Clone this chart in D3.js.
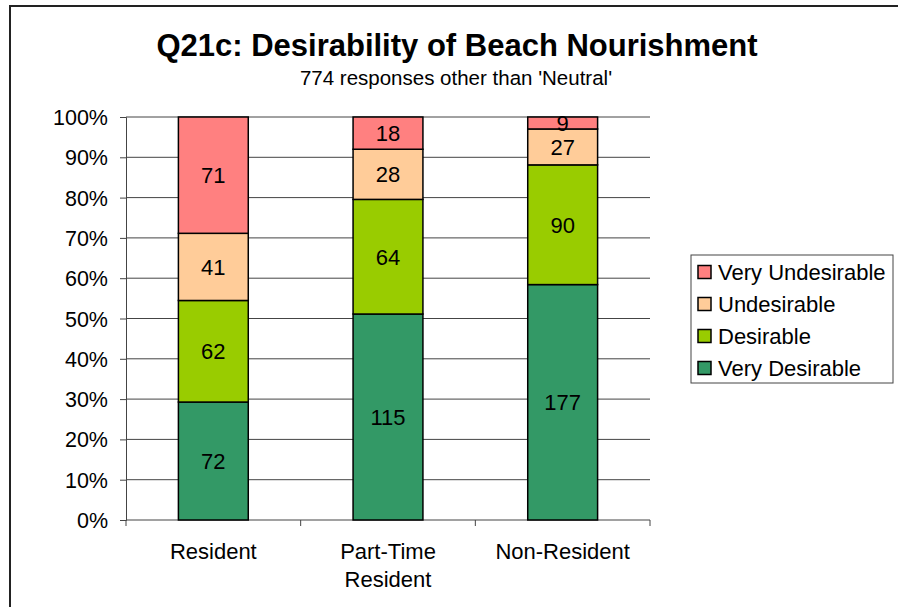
<html>
<head>
<meta charset="utf-8">
<script src="https://d3js.org/d3.v7.min.js"></script>
<style>
  body { margin: 0; background: #fff; }
  text { font-family: "Liberation Sans", Arial, sans-serif; fill: #000; }
</style>
</head>
<body>
<div id="chart"></div>
<script>
var categories = [["Resident"], ["Part-Time", "Resident"], ["Non-Resident"]];
var series = ["Very Desirable", "Desirable", "Undesirable", "Very Undesirable"];
var colors = ["#339966", "#99cc00", "#ffcc99", "#ff8080"];
var veryDesirable = [72, 115, 177];
var desirable = [62, 64, 90];
var undesirable = [41, 28, 27];
var veryUndesirable = [71, 18, 9];
var yTicks = [0, 0.1, 0.2, 0.3, 0.4, 0.5, 0.6, 0.7, 0.8, 0.9, 1];

var width = 898, height = 607;
var plot = { left: 126, right: 650, top: 117, bottom: 520 };

var svg = d3.select("#chart").append("svg")
  .attr("width", width).attr("height", height);

// outer frame, runs off the page on the right and bottom
svg.append("rect")
  .attr("x", 10).attr("y", 6)
  .attr("width", 900).attr("height", 620)
  .attr("fill", "none").attr("stroke", "#222").attr("stroke-width", 2);

svg.append("text")
  .attr("x", 457).attr("y", 56)
  .attr("text-anchor", "middle")
  .style("font-size", "31px").style("font-weight", "bold")
  .text("Q21c: Desirability of Beach Nourishment");

svg.append("text")
  .attr("x", 456).attr("y", 85)
  .attr("text-anchor", "middle")
  .style("font-size", "20.5px")
  .text("774 responses other than 'Neutral'");

var table = categories.map(function (c, i) {
  return {
    idx: i,
    "Very Desirable": veryDesirable[i],
    "Desirable": desirable[i],
    "Undesirable": undesirable[i],
    "Very Undesirable": veryUndesirable[i]
  };
});

var stacked = d3.stack().keys(series).offset(d3.stackOffsetExpand)(table);

var x = d3.scaleBand().domain(d3.range(categories.length)).range([plot.left, plot.right]).paddingInner(0.6).paddingOuter(0.3);
var xOuter = d3.scaleBand().domain(d3.range(categories.length)).range([plot.left, plot.right]);
var y = d3.scaleLinear().domain([0, 1]).range([plot.bottom, plot.top]);

// gridlines
svg.append("g").selectAll("line").data(yTicks.slice(1)).enter().append("line")
  .attr("x1", plot.left).attr("x2", plot.right)
  .attr("y1", function (d) { return y(d); }).attr("y2", function (d) { return y(d); })
  .attr("stroke", "#444").attr("stroke-width", 1);

// y axis
var yAxis = svg.append("g")
  .attr("transform", "translate(" + plot.left + ",0)")
  .call(d3.axisLeft(y).tickValues(yTicks).tickFormat(d3.format(".0%")).tickSize(6).tickPadding(12));
yAxis.attr("font-family", null).attr("font-size", null);
yAxis.select(".domain").attr("stroke", "#444");
yAxis.selectAll(".tick line").attr("stroke", "#444");
yAxis.selectAll("text").style("font-size", "21.5px").attr("dy", "0.35em");

// x axis
var xAxis = svg.append("g").attr("transform", "translate(0," + plot.bottom + ")");
xAxis.append("line").attr("x1", plot.left).attr("x2", plot.right).attr("stroke", "#444");
xAxis.selectAll(".xt").data(d3.range(categories.length + 1)).enter().append("line")
  .attr("x1", function (d) { return d < categories.length ? xOuter(d) : plot.right; })
  .attr("x2", function (d) { return d < categories.length ? xOuter(d) : plot.right; })
  .attr("y1", 0).attr("y2", 6).attr("stroke", "#444");
xAxis.selectAll(".xl").data(categories).enter().append("text")
  .attr("text-anchor", "middle")
  .attr("x", function (d, i) { return x(i) + x.bandwidth() / 2; })
  .style("font-size", "22px")
  .each(function (d) {
    var t = d3.select(this);
    d.forEach(function (line, j) {
      t.append("tspan").attr("x", t.attr("x")).attr("y", 39 + j * 28).text(line);
    });
  });

// bars
var layers = svg.append("g").selectAll("g").data(stacked).enter().append("g")
  .attr("fill", function (d, i) { return colors[i]; });

layers.selectAll("rect").data(function (d) { return d; }).enter().append("rect")
  .attr("x", function (d) { return x(d.data.idx); })
  .attr("width", x.bandwidth())
  .attr("y", function (d) { return y(d[1]); })
  .attr("height", function (d) { return y(d[0]) - y(d[1]); })
  .attr("stroke", "#000").attr("stroke-width", 1.5);

layers.each(function (layer) {
  d3.select(this).selectAll("text").data(layer).enter().append("text")
    .attr("text-anchor", "middle")
    .attr("x", function (d) { return x(d.data.idx) + x.bandwidth() / 2; })
    .attr("y", function (d) { return (y(d[0]) + y(d[1])) / 2 + 8; })
    .style("font-size", "22px")
    .text(function (d) { return d.data[layer.key]; });
});

// legend
var legend = svg.append("g");
legend.append("rect")
  .attr("x", 691).attr("y", 255).attr("width", 202).attr("height", 128)
  .attr("fill", "#fff").attr("stroke", "#444").attr("stroke-width", 1);
var items = legend.selectAll("g").data(series.slice().reverse()).enter().append("g")
  .attr("transform", function (d, i) { return "translate(698," + (272 + i * 32) + ")"; });
items.append("rect")
  .attr("x", 0).attr("y", -6.5).attr("width", 13).attr("height", 13)
  .attr("fill", function (d) { return colors[series.indexOf(d)]; })
  .attr("stroke", "#000").attr("stroke-width", 1.5);
items.append("text")
  .attr("x", 20).attr("y", 8)
  .style("font-size", "22px")
  .text(function (d) { return d; });
</script>
</body>
</html>
